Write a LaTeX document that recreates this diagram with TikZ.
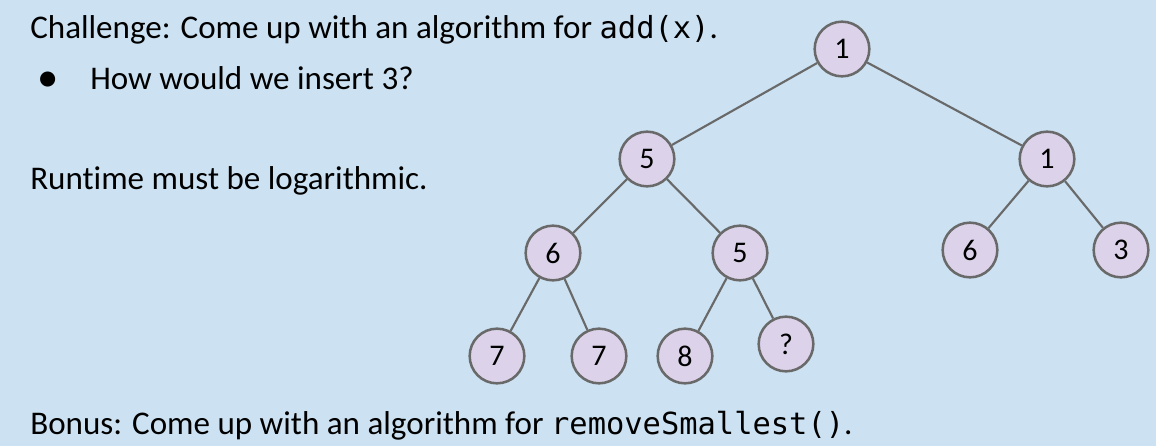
\documentclass[tikz,border=0pt]{standalone}
\usepackage{fontspec}
\setmainfont{Carlito}[Ligatures=NoCommon]
\setmonofont{DejaVu Sans Mono}[Scale=0.92]
\definecolor{bg}{HTML}{CCE2F3}
\definecolor{nodefill}{HTML}{DCD3EA}
\definecolor{edgegray}{HTML}{696969}
\tikzset{
  hnode/.style={circle, draw=edgegray, line width=1.9pt, fill=nodefill, minimum size=41pt, inner sep=0pt, font=\fontsize{22.5}{26}\selectfont},
  hedge/.style={draw=edgegray, line width=1.6pt},
  txt/.style={anchor=base west, inner sep=0pt, font=\fontsize{24.8}{30}\selectfont}
}
\begin{document}
\begin{tikzpicture}[x=0.75pt,y=-0.75pt]
\fill[bg] (0,0) rectangle (1156,446);
\useasboundingbox (0,0) rectangle (1156,446);
\node[txt] (t1) at (30,38) {Challenge: Come up with an algorithm for \texttt{add(x)}.};
\node[txt, font=\fontsize{32}{36}\selectfont] (b1) at (37,91) {\textbullet};
\node[txt] (t2) at (90,89) {How would we insert 3?};
\node[txt] (t3) at (30,189) {Runtime must be logarithmic.};
\node[txt] (t4) at (30,434) {Bonus: Come up with an algorithm for \texttt{removeSmallest()}.};
\node[hnode] (r) at (842,49) {1};
\node[hnode] (a) at (647,159) {5};
\node[hnode] (b) at (1047,159) {1};
\node[hnode] (c) at (553,253) {6};
\node[hnode] (d) at (740,253) {5};
\node[hnode] (e) at (970,250) {6};
\node[hnode] (f) at (1121,250) {3};
\node[hnode] (g) at (497,356) {7};
\node[hnode] (h) at (599,356) {7};
\node[hnode] (i) at (685,356) {8};
\node[hnode] (j) at (786,344) {?};
\draw[hedge] (r) -- (a);
\draw[hedge] (r) -- (b);
\draw[hedge] (a) -- (c);
\draw[hedge] (a) -- (d);
\draw[hedge] (b) -- (e);
\draw[hedge] (b) -- (f);
\draw[hedge] (c) -- (g);
\draw[hedge] (c) -- (h);
\draw[hedge] (d) -- (i);
\draw[hedge] (d) -- (j);
\end{tikzpicture}
\end{document}
